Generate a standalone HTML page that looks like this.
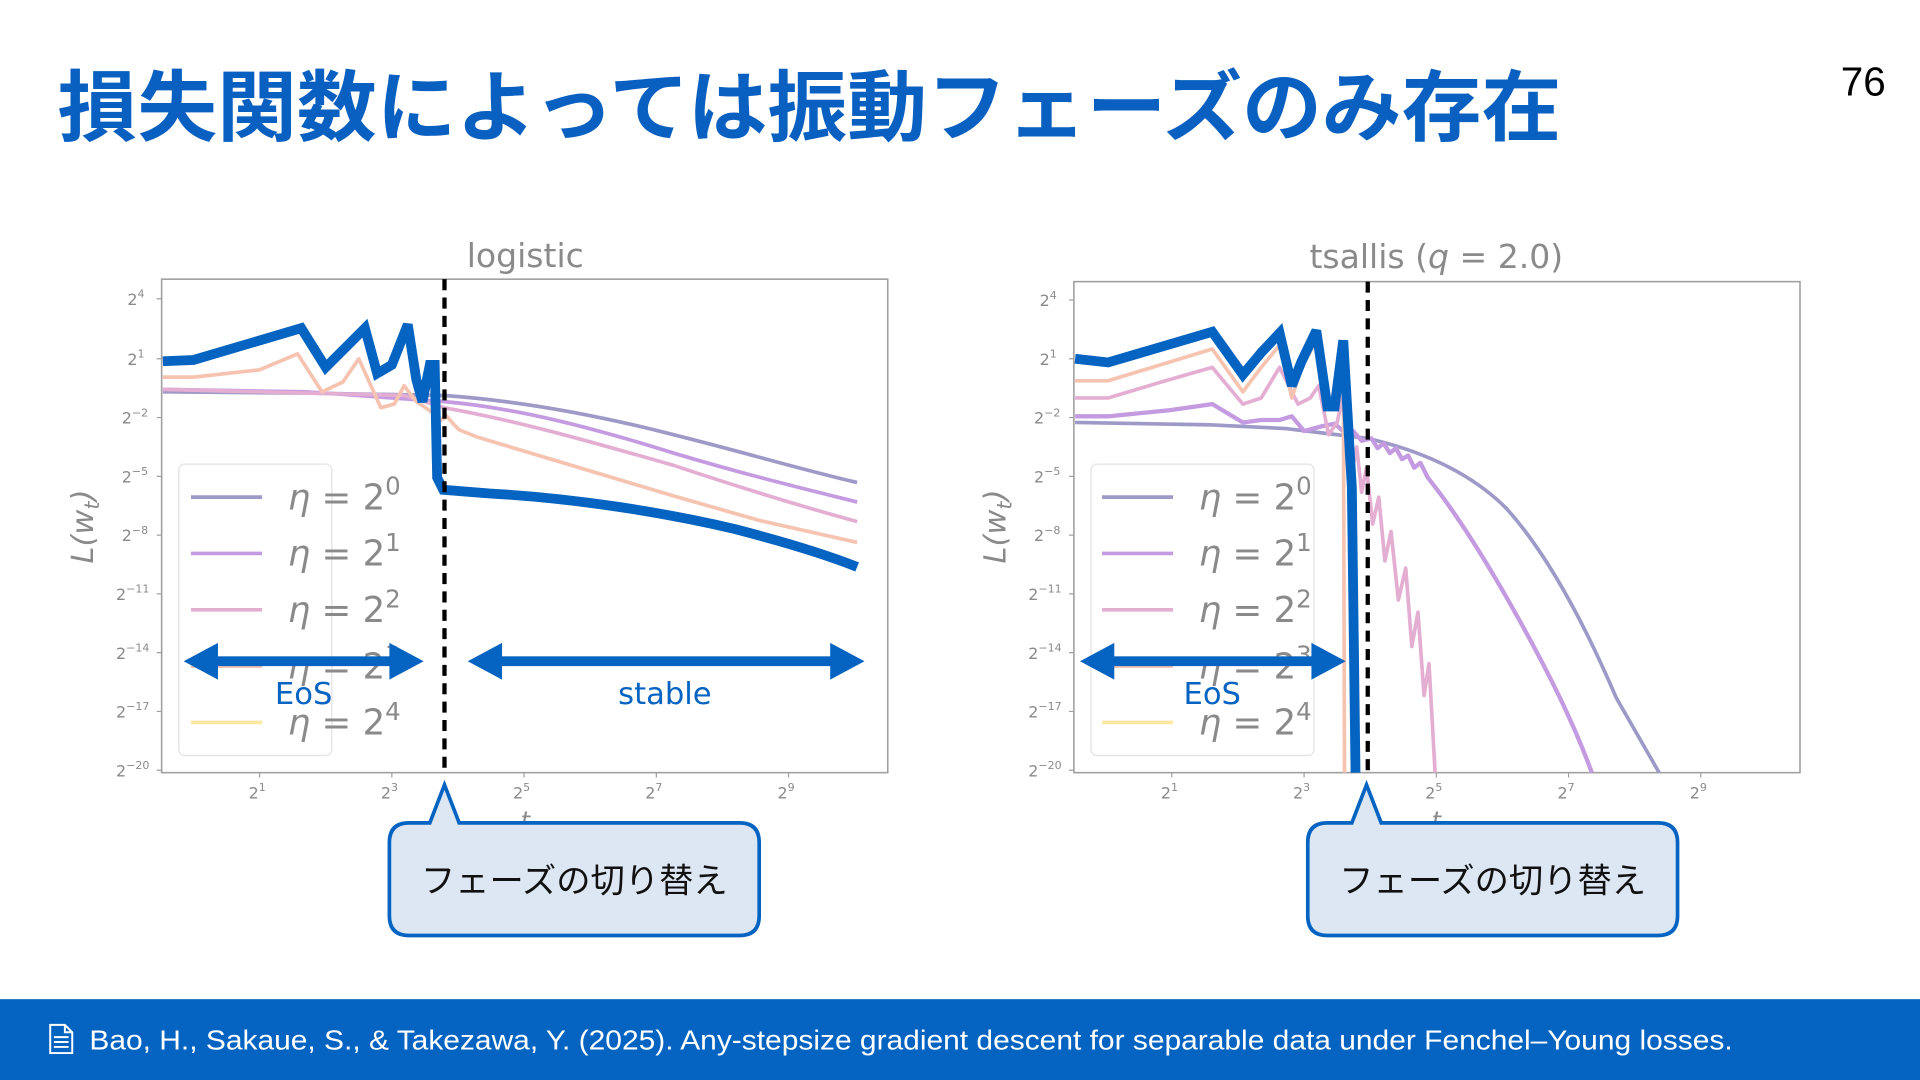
<!DOCTYPE html>
<html><head><meta charset="utf-8"><style>
html,body{margin:0;padding:0;background:#fff;width:1920px;height:1080px;overflow:hidden}
svg{display:block}
</style></head><body>
<svg width="1920" height="1080" viewBox="0 0 1568 882" xmlns="http://www.w3.org/2000/svg" font-family="'Liberation Sans','Noto Sans CJK JP',sans-serif">
<rect width="1568" height="882" fill="#fff"/>
<text x="47" y="110" font-size="63" font-weight="bold" fill="#0a60c0" textLength="1228" lengthAdjust="spacingAndGlyphs" font-family="'Liberation Sans','Noto Sans CJK JP',sans-serif">損失関数によっては振動フェーズのみ存在</text>
<text x="1540" y="78" font-size="33" fill="#000" text-anchor="end">76</text>

<!-- footer -->
<rect x="0" y="816" width="1568" height="66" fill="#0563c1"/>
<g fill="none" stroke="#fff" stroke-width="1.6"><path d="M41 837h12l6 6v17h-18z"/><path d="M53 837v6h6"/><path d="M44 847h12M44 851h12M44 855h12"/></g>
<text x="73" y="857" font-size="23" fill="#fff" textLength="1342" lengthAdjust="spacingAndGlyphs">Bao, H., Sakaue, S., &amp; Takezawa, Y. (2025). Any-stepsize gradient descent for separable data under Fenchel–Young losses.</text>

<!-- ===== LEFT CHART ===== -->
<g>
<text x="429" y="218" font-size="27" fill="#8a8a8a" text-anchor="middle" font-family="'DejaVu Sans',sans-serif">logistic</text>
<rect x="132" y="228" width="593" height="403" fill="none" stroke="#a0a0a0" stroke-width="1.3"/>
<g fill="#8a8a8a" font-size="13" text-anchor="end" font-family="'DejaVu Sans',sans-serif">
<text x="118" y="249">2<tspan dy="-6" font-size="9">4</tspan></text>
<text x="118" y="298">2<tspan dy="-6" font-size="9">1</tspan></text>
<text x="121" y="346">2<tspan dy="-6" font-size="9">−2</tspan></text>
<text x="121" y="394">2<tspan dy="-6" font-size="9">−5</tspan></text>
<text x="121" y="442">2<tspan dy="-6" font-size="9">−8</tspan></text>
<text x="122" y="490">2<tspan dy="-6" font-size="9">−11</tspan></text>
<text x="122" y="538">2<tspan dy="-6" font-size="9">−14</tspan></text>
<text x="122" y="586">2<tspan dy="-6" font-size="9">−17</tspan></text>
<text x="122" y="634">2<tspan dy="-6" font-size="9">−20</tspan></text>
</g>
<g stroke="#a0a0a0" stroke-width="1"><path d="M128 244h4M128 293h4M128 341h4M128 389h4M128 437h4M128 485h4M128 533h4M128 581h4M128 629h4M212 631v4M320 631v4M428 631v4M536 631v4M644 631v4"/></g>
<g fill="#8a8a8a" font-size="13" text-anchor="middle" font-family="'DejaVu Sans',sans-serif">
<text x="210" y="652">2<tspan dy="-6" font-size="9">1</tspan></text>
<text x="318" y="652">2<tspan dy="-6" font-size="9">3</tspan></text>
<text x="426" y="652">2<tspan dy="-6" font-size="9">5</tspan></text>
<text x="534" y="652">2<tspan dy="-6" font-size="9">7</tspan></text>
<text x="642" y="652">2<tspan dy="-6" font-size="9">9</tspan></text>
<text x="429" y="677" font-size="20" font-style="italic">t</text>
</g>
<text transform="translate(76,430) rotate(-90)" font-size="25" fill="#8a8a8a" text-anchor="middle" font-style="italic" font-family="'DejaVu Sans',sans-serif">L(w<tspan font-size="17" dy="5">t</tspan><tspan dy="-5">)</tspan></text>
<g fill="none" stroke-linejoin="round" stroke-width="3">
<path stroke="#9e9ac8" d="M133 320 L250 321 L363 323 C420 327 480 337 550 355 C610 370 660 385 700 394"/>
<path stroke="#c49ae0" d="M133 318 L250 320 L363 328 C420 333 480 348 550 370 C610 388 660 400 700 410"/>
<path stroke="#e4aed2" d="M133 318 L250 321 L330 323 L363 333 C420 343 480 360 550 380 C610 400 660 415 700 426"/>
<path stroke="#f5c3b0" d="M133 308 L158 308 L212 302 L243 289 L263 320 L280 312 L293 293 L311 333 L322 330 L330 315 L340 328 L352 336 L360 343 L365 340 L370 346 L375 351 L390 357 L450 375 L550 405 L620 425 L700 443"/>
</g>
<path fill="none" stroke="#0563c1" stroke-width="8" stroke-linejoin="miter" stroke-miterlimit="3" d="M133 295 L158 294 L246 268 L266 300 L283 283 L298 268 L308 305 L320 298 L333 265 L340 310 L345 328 L351 298 L355 298 L357 390 L362 400 L400 403 C470 407 540 418 600 432 C650 445 680 455 700 463"/>
<line x1="363" y1="228" x2="363" y2="631" stroke="#000" stroke-width="3.5" stroke-dasharray="9,6"/>
<rect x="146" y="379" width="125" height="238" rx="5" fill="#fff" fill-opacity="0.8" stroke="#e6e6e6" stroke-width="1.2"/>
<g stroke-width="3"><line x1="156" y1="406" x2="214" y2="406" stroke="#9e9ac8"/><line x1="156" y1="452" x2="214" y2="452" stroke="#c49ae0"/><line x1="156" y1="498" x2="214" y2="498" stroke="#e4aed2"/><line x1="156" y1="544" x2="214" y2="544" stroke="#f5c3b0"/><line x1="156" y1="590" x2="214" y2="590" stroke="#fce8a0"/></g>
<g fill="#8a8a8a" font-size="29" font-family="'DejaVu Sans',sans-serif">
<text x="235" y="416"><tspan font-style="italic">η</tspan> = 2<tspan dy="-12" font-size="20">0</tspan></text>
<text x="235" y="462"><tspan font-style="italic">η</tspan> = 2<tspan dy="-12" font-size="20">1</tspan></text>
<text x="235" y="508"><tspan font-style="italic">η</tspan> = 2<tspan dy="-12" font-size="20">2</tspan></text>
<text x="235" y="554"><tspan font-style="italic">η</tspan> = 2<tspan dy="-12" font-size="20">3</tspan></text>
<text x="235" y="600"><tspan font-style="italic">η</tspan> = 2<tspan dy="-12" font-size="20">4</tspan></text>
</g>
<g fill="#0563c1">
<rect x="170" y="536" width="156" height="8"/><path d="M150 540 L178 525 L178 555Z M346 540 L318 525 L318 555Z"/>
<rect x="402" y="536" width="284" height="8"/><path d="M382 540 L410 525 L410 555Z M706 540 L678 525 L678 555Z"/>
</g>
<g fill="#0563c1" font-size="25" text-anchor="middle" font-family="'DejaVu Sans',sans-serif"><text x="248" y="575">EoS</text><text x="543" y="575">stable</text></g>
<path d="M363 641 L352 673 L318 673 Q318 673 318 673" fill="none"/>
<path d="M334 672 H351 L363 641 L375 672 H604 Q620 672 620 688 V748 Q620 764 604 764 H334 Q318 764 318 748 V688 Q318 672 334 672Z" fill="#dde7f4" stroke="#0563c1" stroke-width="3"/>
<text x="469" y="729" font-size="28" text-anchor="middle" fill="#111" font-family="'Noto Sans CJK JP',sans-serif">フェーズの切り替え</text>
</g>

<!-- ===== RIGHT CHART ===== -->
<g>
<text x="1173" y="219" font-size="27" fill="#8a8a8a" text-anchor="middle" font-family="'DejaVu Sans',sans-serif">tsallis (<tspan font-style="italic">q</tspan> = 2.0)</text>
<rect x="877" y="230" width="593" height="401" fill="none" stroke="#a0a0a0" stroke-width="1.3"/>
<g fill="#8a8a8a" font-size="13" text-anchor="end" font-family="'DejaVu Sans',sans-serif">
<text x="863" y="250">2<tspan dy="-6" font-size="9">4</tspan></text>
<text x="863" y="298">2<tspan dy="-6" font-size="9">1</tspan></text>
<text x="866" y="346">2<tspan dy="-6" font-size="9">−2</tspan></text>
<text x="866" y="394">2<tspan dy="-6" font-size="9">−5</tspan></text>
<text x="866" y="442">2<tspan dy="-6" font-size="9">−8</tspan></text>
<text x="867" y="490">2<tspan dy="-6" font-size="9">−11</tspan></text>
<text x="867" y="538">2<tspan dy="-6" font-size="9">−14</tspan></text>
<text x="867" y="586">2<tspan dy="-6" font-size="9">−17</tspan></text>
<text x="867" y="634">2<tspan dy="-6" font-size="9">−20</tspan></text>
</g>
<g stroke="#a0a0a0" stroke-width="1"><path d="M873 245h4M873 293h4M873 341h4M873 389h4M873 437h4M873 485h4M873 533h4M873 581h4M873 629h4M957 631v4M1065 631v4M1173 631v4M1281 631v4M1389 631v4"/></g>
<g fill="#8a8a8a" font-size="13" text-anchor="middle" font-family="'DejaVu Sans',sans-serif">
<text x="955" y="652">2<tspan dy="-6" font-size="9">1</tspan></text>
<text x="1063" y="652">2<tspan dy="-6" font-size="9">3</tspan></text>
<text x="1171" y="652">2<tspan dy="-6" font-size="9">5</tspan></text>
<text x="1279" y="652">2<tspan dy="-6" font-size="9">7</tspan></text>
<text x="1387" y="652">2<tspan dy="-6" font-size="9">9</tspan></text>
<text x="1173" y="677" font-size="20" font-style="italic">t</text>
</g>
<text transform="translate(821,430) rotate(-90)" font-size="25" fill="#8a8a8a" text-anchor="middle" font-style="italic" font-family="'DejaVu Sans',sans-serif">L(w<tspan font-size="17" dy="5">t</tspan><tspan dy="-5">)</tspan></text>
<g fill="none" stroke-linejoin="round" stroke-width="3">
<path stroke="#9e9ac8" d="M878 345 L990 347 L1050 350 L1117 358 C1160 368 1200 385 1230 415 C1260 448 1290 500 1320 570 L1355 631"/>
<path stroke="#c49ae0" stroke-width="3.5" d="M878 340 L905 340 L955 335 L990 330 L1015 345 L1030 343 L1045 343 L1055 340 L1065 352 L1080 348 L1090 346 L1100 355 L1105 352 L1112 360 L1120 358 L1125 366 L1130 362 L1135 370 L1140 366 L1145 375 L1150 372 L1155 382 L1160 378 L1166 390 C1190 420 1215 460 1240 505 C1265 550 1285 590 1300 631"/>
<path stroke="#e4aed2" d="M878 325 L905 325 L955 310 L990 300 L1015 330 L1030 325 L1045 300 L1060 330 L1070 325 L1077 315 L1085 355 L1092 345 L1098 318 L1100 362 L1104 386 L1108 365 L1112 402 L1116 382 L1121 428 L1126 406 L1131 458 L1136 434 L1142 490 L1148 464 L1153 528 L1158 500 L1163 568 L1167 542 L1172 631"/>
<path stroke="#f5c3b0" d="M878 311 L905 311 L990 285 L1015 320 L1030 300 L1045 282 L1055 325 L1063 300 L1075 278 L1085 330 L1092 322 L1097 283 L1098 631"/>
</g>
<path fill="none" stroke="#0563c1" stroke-width="8" stroke-linejoin="miter" stroke-miterlimit="3" d="M878 293 L905 296 L990 271 L1015 306 L1030 288 L1045 272 L1055 315 L1063 295 L1075 270 L1084 332 L1090 332 L1097 278 L1104 398 L1107 631"/>
<line x1="1117" y1="230" x2="1117" y2="631" stroke="#000" stroke-width="3.5" stroke-dasharray="9,6"/>
<rect x="891" y="379" width="182" height="238" rx="5" fill="#fff" fill-opacity="0.8" stroke="#e6e6e6" stroke-width="1.2"/>
<g stroke-width="3"><line x1="900" y1="406" x2="958" y2="406" stroke="#9e9ac8"/><line x1="900" y1="452" x2="958" y2="452" stroke="#c49ae0"/><line x1="900" y1="498" x2="958" y2="498" stroke="#e4aed2"/><line x1="900" y1="544" x2="958" y2="544" stroke="#f5c3b0"/><line x1="900" y1="590" x2="958" y2="590" stroke="#fce8a0"/></g>
<g fill="#8a8a8a" font-size="29" font-family="'DejaVu Sans',sans-serif">
<text x="979" y="416"><tspan font-style="italic">η</tspan> = 2<tspan dy="-12" font-size="20">0</tspan></text>
<text x="979" y="462"><tspan font-style="italic">η</tspan> = 2<tspan dy="-12" font-size="20">1</tspan></text>
<text x="979" y="508"><tspan font-style="italic">η</tspan> = 2<tspan dy="-12" font-size="20">2</tspan></text>
<text x="979" y="554"><tspan font-style="italic">η</tspan> = 2<tspan dy="-12" font-size="20">3</tspan></text>
<text x="979" y="600"><tspan font-style="italic">η</tspan> = 2<tspan dy="-12" font-size="20">4</tspan></text>
</g>
<g fill="#0563c1">
<rect x="902" y="536" width="176" height="8"/><path d="M882 540 L910 525 L910 555Z M1099 540 L1071 525 L1071 555Z"/>
</g>
<text x="990" y="575" fill="#0563c1" font-size="25" text-anchor="middle" font-family="'DejaVu Sans',sans-serif">EoS</text>
<path d="M1084 672 H1104 L1116 641 L1128 672 H1354 Q1370 672 1370 688 V748 Q1370 764 1354 764 H1084 Q1068 764 1068 748 V688 Q1068 672 1084 672Z" fill="#dde7f4" stroke="#0563c1" stroke-width="3"/>
<text x="1219" y="729" font-size="28" text-anchor="middle" fill="#111" font-family="'Noto Sans CJK JP',sans-serif">フェーズの切り替え</text>
</g>
</svg>
</body></html>
